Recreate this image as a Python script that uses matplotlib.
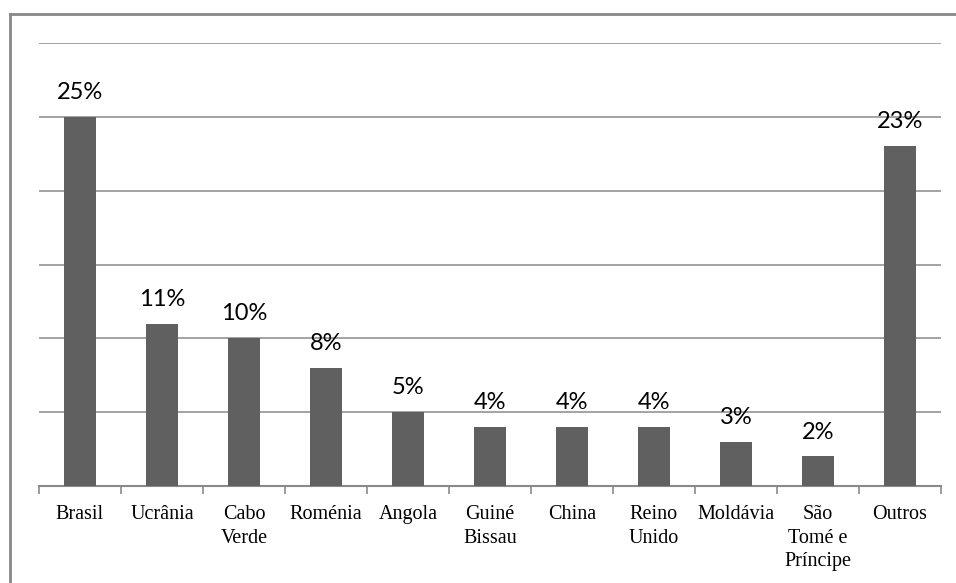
import matplotlib.pyplot as plt
from matplotlib.lines import Line2D
import numpy as np

# share of foreign residents by nationality
countries = ["Brasil", "Ucrânia", "Cabo\nVerde", "Roménia", "Angola", "Guiné\nBissau",
             "China", "Reino\nUnido", "Moldávia", "São\nTomé e\nPríncipe", "Outros"]
shares = [25, 11, 10, 8, 5, 4, 4, 4, 3, 2, 23]
share_labels = ["25%", "11%", "10%", "8%", "5%", "4%", "4%", "4%", "3%", "2%", "23%"]
gridlines = [5, 10, 15, 20, 25, 30]

bar_color = "#606060"
grid_color = "#8a8a8a"

fig = plt.figure(figsize=(9.56, 5.83), dpi=100)
ax = fig.add_axes([39 / 956, 1 - 486 / 583, (941 - 39) / 956, (486 - 43) / 583])

x = np.arange(len(countries))
ax.bar(x, shares, width=0.4, color=bar_color, zorder=3)

for xi, v, lab in zip(x, shares, share_labels):
    ax.annotate(lab, (xi, v), xytext=(0, 10), textcoords="offset points",
                ha="center", va="bottom", fontsize=17, family="Lato", color="black")

ax.set_xlim(-0.5, len(countries) - 0.5)
ax.set_ylim(0, 30)
ax.set_yticks(gridlines)
ax.yaxis.grid(True, color=grid_color, linewidth=1.1, zorder=0)
ax.tick_params(axis="y", length=0, labelleft=False)

ax.set_xticks(x)
ax.set_xticklabels(countries, family="Liberation Serif", fontsize=14.5, linespacing=1.32)
ax.tick_params(axis="x", which="major", length=0, pad=14)
ax.set_xticks(np.arange(-0.5, len(countries)), minor=True)
ax.tick_params(axis="x", which="minor", length=6, width=1.2, color=grid_color)

for side in ["top", "right", "left"]:
    ax.spines[side].set_visible(False)
ax.spines["bottom"].set_color(grid_color)
ax.spines["bottom"].set_linewidth(1.5)

# outer frame, only the top and left edges show
fig.add_artist(Line2D([10 / 956, 10 / 956], [0, 1 - 14 / 583], color="#888888", linewidth=2))
fig.add_artist(Line2D([10 / 956, 1], [1 - 14 / 583, 1 - 14 / 583], color="#888888", linewidth=2))

fig.savefig("out.png", dpi=100)
